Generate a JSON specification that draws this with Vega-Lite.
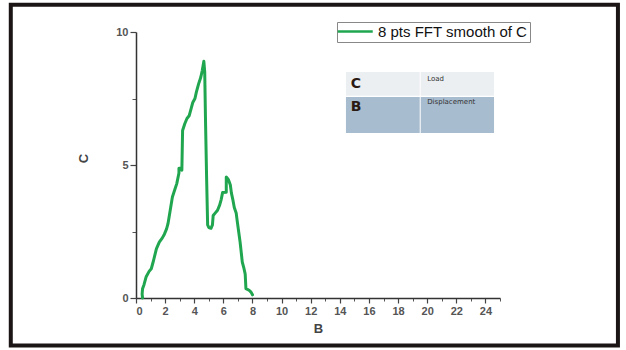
{
  "$schema": "https://vega.github.io/schema/vega-lite/v6.json",
  "width": 364,
  "height": 266,
  "autosize": {"type": "none"},
  "padding": {"left": 136, "top": 32, "right": 126, "bottom": 52},
  "background": "white",
  "config": {
    "view": {"stroke": null},
    "font": "Liberation Sans"
  },
  "datasets": {
    "curve": [
      {"i":0,"B":0.45,"C":0},{"i":1,"B":0.42,"C":0.15},{"i":2,"B":0.45,"C":0.35},{"i":3,"B":0.55,"C":0.5},{"i":4,"B":0.7,"C":0.8},{"i":5,"B":0.9,"C":1.0},{"i":6,"B":1.05,"C":1.1},{"i":7,"B":1.2,"C":1.4},{"i":8,"B":1.4,"C":1.85},{"i":9,"B":1.6,"C":2.1},{"i":10,"B":1.8,"C":2.25},{"i":11,"B":1.95,"C":2.4},{"i":12,"B":2.1,"C":2.6},{"i":13,"B":2.2,"C":2.8},{"i":14,"B":2.35,"C":3.3},{"i":15,"B":2.5,"C":3.8},{"i":16,"B":2.65,"C":4.05},{"i":17,"B":2.8,"C":4.3},{"i":18,"B":2.95,"C":4.7},{"i":19,"B":2.95,"C":4.88},{"i":20,"B":3.15,"C":4.88},{"i":21,"B":3.15,"C":4.8},{"i":22,"B":3.2,"C":6.3},{"i":23,"B":3.35,"C":6.55},{"i":24,"B":3.5,"C":6.75},{"i":25,"B":3.65,"C":6.85},{"i":26,"B":3.8,"C":7.15},{"i":27,"B":3.9,"C":7.35},{"i":28,"B":4.05,"C":7.5},{"i":29,"B":4.15,"C":7.75},{"i":30,"B":4.3,"C":8.05},{"i":31,"B":4.45,"C":8.3},{"i":32,"B":4.55,"C":8.55},{"i":33,"B":4.66,"C":8.9},{"i":34,"B":4.72,"C":8.5},{"i":35,"B":4.78,"C":6.5},{"i":36,"B":4.85,"C":4.5},{"i":37,"B":4.92,"C":2.75},{"i":38,"B":5.0,"C":2.65},{"i":39,"B":5.15,"C":2.62},{"i":40,"B":5.25,"C":2.75},{"i":41,"B":5.3,"C":3.1},{"i":42,"B":5.45,"C":3.2},{"i":43,"B":5.6,"C":3.3},{"i":44,"B":5.75,"C":3.5},{"i":45,"B":5.85,"C":3.7},{"i":46,"B":5.95,"C":3.97},{"i":47,"B":6.2,"C":3.98},{"i":48,"B":6.2,"C":4.55},{"i":49,"B":6.35,"C":4.45},{"i":50,"B":6.48,"C":4.25},{"i":51,"B":6.55,"C":3.95},{"i":52,"B":6.65,"C":3.7},{"i":53,"B":6.75,"C":3.4},{"i":54,"B":6.88,"C":3.2},{"i":55,"B":6.95,"C":2.9},{"i":56,"B":7.05,"C":2.5},{"i":57,"B":7.15,"C":2.1},{"i":58,"B":7.22,"C":1.75},{"i":59,"B":7.3,"C":1.35},{"i":60,"B":7.42,"C":1.1},{"i":61,"B":7.5,"C":0.9},{"i":62,"B":7.55,"C":0.35},{"i":63,"B":7.75,"C":0.3},{"i":64,"B":7.9,"C":0.22},{"i":65,"B":8.0,"C":0.12}
    ]
  },
  "resolve": {"axis": {"x": "independent", "y": "independent"}},
  "layer": [
    {
      "data": {"values": [{}]},
      "mark": {"type": "rect", "fill": null, "stroke": "#1c1515", "strokeWidth": 4},
      "encoding": {
        "x": {"datum": -8.6, "type": "quantitative", "scale": {"domain": [0, 25], "nice": false}, "axis": null},
        "x2": {"datum": 33.1},
        "y": {"datum": 11.02, "type": "quantitative", "scale": {"domain": [0, 10], "nice": false}, "axis": null},
        "y2": {"datum": -1.79}
      }
    },
    {
      "data": {"values": [{}]},
      "mark": {"type": "rect", "fill": "#eceff2"},
      "encoding": {
        "x": {"datum": 14.42, "type": "quantitative", "axis": null},
        "x2": {"datum": 24.59},
        "y": {"datum": 8.5, "type": "quantitative", "axis": null},
        "y2": {"datum": 7.6}
      }
    },
    {
      "data": {"values": [{}]},
      "mark": {"type": "rect", "fill": "#a8bccf"},
      "encoding": {
        "x": {"datum": 14.42, "type": "quantitative", "axis": null},
        "x2": {"datum": 24.59},
        "y": {"datum": 7.56, "type": "quantitative", "axis": null},
        "y2": {"datum": 6.2}
      }
    },
    {
      "data": {"values": [{}]},
      "mark": {"type": "rule", "stroke": "white", "strokeWidth": 1},
      "encoding": {
        "x": {"datum": 19.52, "type": "quantitative", "axis": null},
        "y": {"datum": 8.5, "type": "quantitative", "axis": null},
        "y2": {"datum": 6.2}
      }
    },
    {
      "data": {"values": [{"t": "C", "B": 14.75, "C": 8.05}, {"t": "B", "B": 14.75, "C": 7.18}]},
      "mark": {"type": "text", "align": "left", "baseline": "middle", "fontWeight": "bold", "fontSize": 14, "font": "DejaVu Sans", "color": "#2a1a12"},
      "encoding": {
        "x": {"field": "B", "type": "quantitative", "axis": null},
        "y": {"field": "C", "type": "quantitative", "axis": null},
        "text": {"field": "t"}
      }
    },
    {
      "data": {"values": [{"t": "Load", "B": 20.0, "C": 8.23}, {"t": "Displacement", "B": 20.0, "C": 7.35}]},
      "mark": {"type": "text", "align": "left", "baseline": "middle", "fontSize": 7, "font": "DejaVu Sans", "color": "#333333"},
      "encoding": {
        "x": {"field": "B", "type": "quantitative", "axis": null},
        "y": {"field": "C", "type": "quantitative", "axis": null},
        "text": {"field": "t"}
      }
    },
    {
      "data": {"values": [{}]},
      "mark": {"type": "rule", "stroke": "#333333", "strokeWidth": 1, "opacity": 0},
      "encoding": {
        "x": {"datum": 0, "type": "quantitative", "axis": {
          "orient": "bottom", "values": [1,3,5,7,9,11,13,15,17,19,21,23,25], "labels": false, "domain": false, "ticks": true, "tickSize": 3, "tickColor": "#555555", "title": null, "grid": false
        }},
        "y": {"datum": 0, "type": "quantitative", "axis": {
          "orient": "left", "values": [2.5, 7.5], "labels": false, "domain": false, "ticks": true, "tickSize": 4, "tickColor": "#555555", "title": null, "grid": false
        }}
      }
    },
    {
      "data": {"name": "curve"},
      "mark": {"type": "line", "strokeWidth": 3, "strokeJoin": "round", "strokeCap": "round"},
      "encoding": {
        "x": {"field": "B", "type": "quantitative", "axis": {
          "orient": "bottom", "values": [0,2,4,6,8,10,12,14,16,18,20,22,24], "title": "B", "grid": false,
          "domainColor": "#333333", "domainWidth": 1.5, "tickColor": "#444444", "tickSize": 5, "tickWidth": 1.2,
          "labelFont": "Liberation Sans", "labelFontSize": 11, "labelFontWeight": "bold", "labelColor": "#555555", "labelPadding": 2,
          "titleFont": "Liberation Sans", "titleFontSize": 13, "titleFontWeight": "bold", "titleColor": "#444444", "titlePadding": 6
        }},
        "y": {"field": "C", "type": "quantitative", "axis": {
          "orient": "left", "values": [0, 5, 10], "title": "C", "grid": false,
          "domainColor": "#333333", "domainWidth": 1.5, "tickColor": "#444444", "tickSize": 6, "tickWidth": 1.2,
          "labelFont": "Liberation Sans", "labelFontSize": 11, "labelFontWeight": "bold", "labelColor": "#555555", "labelPadding": 2,
          "titleFont": "Liberation Sans", "titleFontSize": 13, "titleFontWeight": "bold", "titleColor": "#444444", "titleX": -46, "titleY": 126
        }},
        "order": {"field": "i", "type": "quantitative"},
        "color": {
          "datum": "8 pts FFT smooth of C",
          "type": "nominal",
          "scale": {"range": ["#21a650"]},
          "legend": {
            "title": null, "orient": "none", "legendX": 201, "legendY": -10,
            "symbolType": "M-2.5,0H7.5", "symbolSize": 49, "symbolStrokeWidth": 2.5,
            "labelFont": "Liberation Sans", "labelFontSize": 15, "labelColor": "#111111", "labelOffset": 24,
            "strokeColor": "#888888", "fillColor": "white", "padding": 2
          }
        }
      }
    }
  ]
}
